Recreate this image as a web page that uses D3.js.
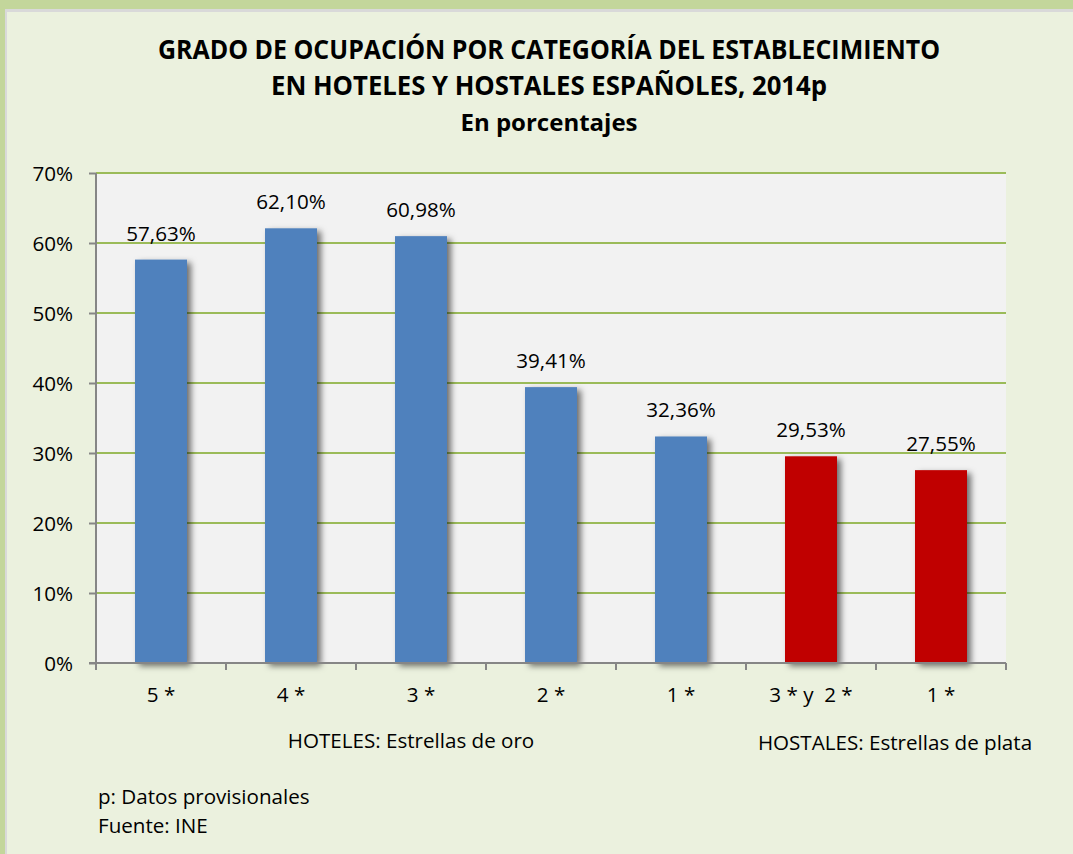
<!DOCTYPE html>
<html>
<head>
<meta charset="utf-8">
<script src="https://cdn.jsdelivr.net/npm/d3@7"></script>
<style>
  html, body { margin: 0; padding: 0; background: #c3d69b; }
  svg { display: block; font-family: "Open Sans", "Noto Sans", sans-serif; }
</style>
</head>
<body>
<svg id="chart" width="1073" height="854"></svg>
<script>
// data
const categories = ["5 *", "4 *", "3 *", "2 *", "1 *", "3 * y  2 *", "1 *"];
const values = [57.63, 62.10, 60.98, 39.41, 32.36, 29.53, 27.55];
const groups = ["hotel", "hotel", "hotel", "hotel", "hotel", "hostal", "hostal"];
const yTicks = [0, 10, 20, 30, 40, 50, 60, 70];
const titleLines = ["GRADO DE OCUPACIÓN POR CATEGORÍA DEL ESTABLECIMIENTO",
                    "EN HOTELES Y HOSTALES ESPAÑOLES, 2014p"];
const subtitle = "En porcentajes";
const groupLabels = ["HOTELES: Estrellas de oro", "HOSTALES: Estrellas de plata"];
const notes = ["p: Datos provisionales", "Fuente: INE"];

const fmt = v => v.toFixed(2).replace(".", ",") + "%";
const colors = {hotel: "#4f81bd", hostal: "#c00000"};
const fs = 20.6;

var svg = d3.select("#chart");
var W = 1073, H = 854;
var plot = {left: 96, right: 1006, top: 173, bottom: 663};

// frame
svg.append("rect").attr("width", W).attr("height", H).attr("fill", "#c3d69b");
svg.append("rect").attr("x", 5).attr("y", 9).attr("width", W).attr("height", H)
    .attr("fill", "#d9d9d9");
svg.append("rect").attr("x", 7).attr("y", 12).attr("width", W).attr("height", H)
    .attr("fill", "#ebf1de");

var defs = svg.append("defs");
var f = defs.append("filter").attr("id", "shadow")
    .attr("x", "-20%").attr("y", "-10%").attr("width", "160%").attr("height", "130%");
f.append("feDropShadow").attr("dx", 4).attr("dy", 3).attr("stdDeviation", 3)
    .attr("flood-color", "#000").attr("flood-opacity", 0.55);

var x = d3.scaleBand()
    .domain(d3.range(categories.length))
    .range([plot.left, plot.right])
    .paddingInner(0.6).paddingOuter(0.3);
var xOuter = d3.scaleBand()
    .domain(d3.range(categories.length))
    .range([plot.left, plot.right]);
var y = d3.scaleLinear().domain([0, 70]).range([plot.bottom, plot.top]);

// plot area
svg.append("rect")
    .attr("x", plot.left).attr("y", plot.top)
    .attr("width", plot.right - plot.left).attr("height", plot.bottom - plot.top)
    .attr("fill", "#f2f2f2");

// gridlines
svg.append("g").selectAll("line")
    .data(yTicks.filter(d => d > 0))
    .join("line")
    .attr("x1", plot.left).attr("x2", plot.right)
    .attr("y1", d => y(d)).attr("y2", d => y(d))
    .attr("stroke", "#9bbb59").attr("stroke-width", 2);

// bars
svg.append("g").selectAll("rect")
    .data(values)
    .join("rect")
    .attr("x", (d, i) => x(i))
    .attr("y", d => y(d))
    .attr("width", x.bandwidth())
    .attr("height", d => y(0) - y(d))
    .attr("fill", (d, i) => colors[groups[i]])
    .attr("filter", "url(#shadow)");

// value labels
svg.append("g").selectAll("text")
    .data(values)
    .join("text")
    .attr("x", (d, i) => x(i) + x.bandwidth() / 2)
    .attr("y", d => y(d) - 19)
    .attr("text-anchor", "middle")
    .attr("font-size", fs)
    .attr("fill", "#000")
    .text(fmt);

// y axis
var yAxis = svg.append("g")
    .attr("transform", "translate(" + plot.left + ",0)")
    .call(d3.axisLeft(y).tickValues(yTicks).tickSize(7).tickPadding(16)
        .tickFormat(d => d + "%"));
yAxis.select(".domain").attr("stroke", "#868686").attr("stroke-width", 2)
    .attr("d", "M0," + plot.top + "V" + plot.bottom);
yAxis.selectAll(".tick line").attr("stroke", "#868686").attr("stroke-width", 2);
yAxis.selectAll(".tick text").attr("font-size", fs).attr("fill", "#000")
    .attr("font-family", "'Open Sans', sans-serif").attr("dy", "0.36em");

// x axis
var xa = svg.append("g");
xa.append("line")
    .attr("x1", plot.left - 7).attr("x2", plot.right)
    .attr("y1", plot.bottom).attr("y2", plot.bottom)
    .attr("stroke", "#868686").attr("stroke-width", 2);
xa.selectAll("line.tk")
    .data(d3.range(categories.length + 1))
    .join("line").attr("class", "tk")
    .attr("x1", i => plot.left + i * xOuter.step())
    .attr("x2", i => plot.left + i * xOuter.step())
    .attr("y1", plot.bottom).attr("y2", plot.bottom + 7)
    .attr("stroke", "#868686").attr("stroke-width", 2);
xa.selectAll("text")
    .data(categories)
    .join("text")
    .attr("x", (d, i) => xOuter(i) + xOuter.bandwidth() / 2)
    .attr("y", 702)
    .attr("text-anchor", "middle")
    .attr("font-size", fs)
    .attr("xml:space", "preserve")
    .style("white-space", "pre")
    .text(d => d);

// group labels
svg.append("text").attr("x", 411).attr("y", 748).attr("text-anchor", "middle")
    .attr("font-size", fs).text(groupLabels[0]);
svg.append("text").attr("x", 895).attr("y", 750).attr("text-anchor", "middle")
    .attr("font-size", fs).text(groupLabels[1]);

// title
var title = svg.append("g").attr("font-weight", "bold").attr("text-anchor", "middle");
title.selectAll("text")
    .data(titleLines)
    .join("text")
    .attr("x", 549)
    .attr("y", (d, i) => 59 + i * 36)
    .attr("font-size", 26)
    .text(d => d);
title.append("text").attr("x", 549).attr("y", 131).attr("font-size", 24).text(subtitle);
// keep title widths close to the original line widths
var titleWidths = [782, 556];
title.selectAll("text").each(function(d, i) {
    if (i < 2) {
        var w = this.getComputedTextLength();
        if (w > titleWidths[i]) {
            d3.select(this).attr("textLength", titleWidths[i]).attr("lengthAdjust", "spacingAndGlyphs");
        }
    }
});

// notes
svg.append("g").selectAll("text")
    .data(notes)
    .join("text")
    .attr("x", 98)
    .attr("y", (d, i) => 804 + i * 29)
    .attr("font-size", fs)
    .text(d => d);
</script>
</body>
</html>
